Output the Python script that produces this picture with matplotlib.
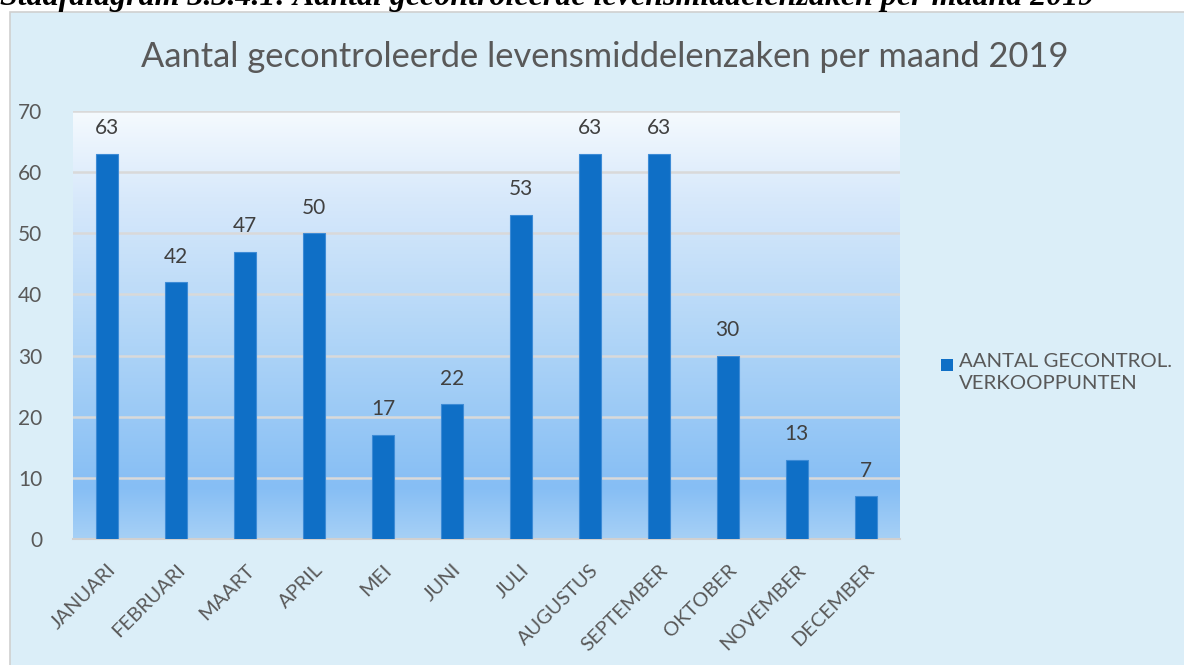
import matplotlib
matplotlib.use("Agg")
import matplotlib.pyplot as plt
import numpy as np
from matplotlib.patches import Rectangle
from matplotlib.colors import LinearSegmentedColormap

months = ["JANUARI", "FEBRUARI", "MAART", "APRIL", "MEI", "JUNI", "JULI",
          "AUGUSTUS", "SEPTEMBER", "OKTOBER", "NOVEMBER", "DECEMBER"]
values = [63, 42, 47, 50, 17, 22, 53, 63, 63, 30, 13, 7]
series_name = "AANTAL GECONTROL.\nVERKOOPPUNTEN"
title = "Aantal gecontroleerde levensmiddelenzaken per maand 2019"
caption = "Staafdiagram 3.3.4.1: Aantal gecontroleerde levensmiddelenzaken per maand 2019"
yticks = [0, 10, 20, 30, 40, 50, 60, 70]

W, H = 1184, 665
fig = plt.figure(figsize=(W / 100, H / 100), dpi=100)
fig.patch.set_facecolor("white")

# chart frame background
frame = Rectangle((10 / W, -0.01), 1.0, 1 - 12 / H + 0.01,
                  transform=fig.transFigure, facecolor="#DBEEF8",
                  edgecolor="#D0D0D0", linewidth=1.2, zorder=-10)
fig.add_artist(frame)

fig.text(0.0 / W, 1 - 5 / H, caption, fontfamily="Liberation Serif",
         fontweight="bold", fontstyle="italic", fontsize=23, va="baseline",
         ha="left", color="black")

ax = fig.add_axes([73 / W, 1 - 539 / H, (900 - 73) / W, (539 - 111) / H])

# gradient background of plot area
cmap = LinearSegmentedColormap.from_list(
    "pa", [(0.0, "#A6D0F6"), (0.12, "#86BEF4"), (0.45, "#AED4F7"),
           (0.8, "#D8E9FB"), (1.0, "#F5FAFE")])
grad = np.linspace(0, 1, 256).reshape(-1, 1)
ax.imshow(grad, cmap=cmap, aspect="auto", extent=[0, 1, 0, 1],
          transform=ax.transAxes, origin="lower", zorder=0)
ax.set_xlim(-0.5, len(months) - 0.5)
ax.set_ylim(0, 70)
ax.set_facecolor("none")

for spine in ["top", "right", "left"]:
    ax.spines[spine].set_visible(False)
ax.spines["bottom"].set_color("#D0D0D0")
ax.spines["bottom"].set_linewidth(1.5)

ax.set_yticks(yticks)
ax.yaxis.grid(True, color="#D9D9D9", linewidth=1.8, zorder=1)
ax.set_axisbelow(True)

x = np.arange(len(months))
ax.bar(x, values, width=0.32, color="#0F6FC6", edgecolor="#3D8BD6",
       linewidth=0.8, zorder=3)
for xi, v in zip(x, values):
    ax.text(xi, v + 4.2, str(v), ha="center", va="center", fontsize=15,
            fontfamily="Lato", color="#404040", zorder=4)

ax.tick_params(axis="both", length=0, colors="#595959")
ax.set_yticklabels([str(t) for t in yticks], fontsize=15, fontfamily="Lato",
                   color="#595959")
ax.tick_params(axis="y", pad=22)
ax.set_xticks(x)
ax.set_xticklabels(months, rotation=45, ha="right", rotation_mode="anchor",
                   fontsize=14.4, fontfamily="Lato", color="#595959")
ax.tick_params(axis="x", pad=16)

fig.text(605 / W, 1 - 57 / H, title, ha="center", va="center", fontsize=24.8,
         fontfamily="Lato", color="#595959")

# legend
fig.add_artist(Rectangle((941 / W, 1 - 371 / H), 12 / W, 12 / H,
                         transform=fig.transFigure, facecolor="#0F6FC6",
                         edgecolor="none"))
fig.text(959 / W, 1 - 353 / H, series_name, ha="left", va="top",
         fontsize=14.7, fontfamily="Lato", color="#595959", linespacing=1.38)

fig.savefig("out.png", dpi=100)
